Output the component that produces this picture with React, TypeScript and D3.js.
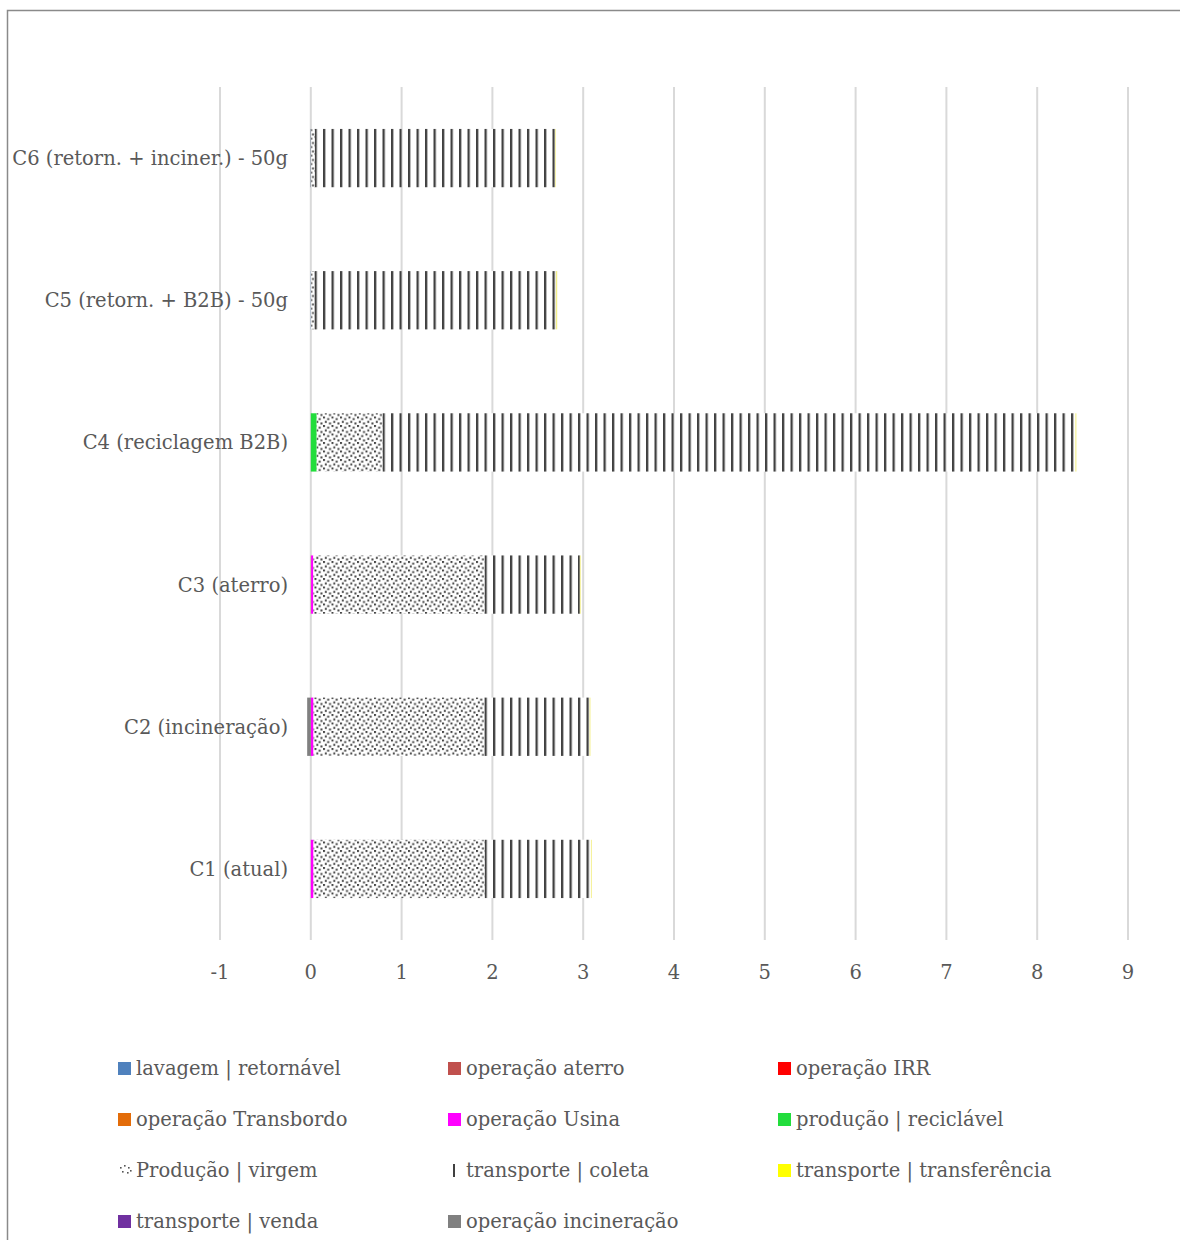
import React, { useEffect, useRef } from "react";
import * as d3 from "d3";

const categories = [
  "C1 (atual)",
  "C2 (incineração)",
  "C3 (aterro)",
  "C4 (reciclagem B2B)",
  "C5 (retorn. + B2B) - 50g",
  "C6 (retorn. + inciner.) - 50g",
];

const seriesNames = [
  "lavagem | retornável",
  "operação aterro",
  "operação IRR",
  "operação Transbordo",
  "operação Usina",
  "produção | reciclável",
  "Produção | virgem",
  "transporte | coleta",
  "transporte | transferência",
  "transporte | venda",
  "operação incineração",
];

// values per category, in order C1..C6
const lavagemRetornavel = [0, 0, 0, 0, 0.004, 0.004];
const operacaoAterro = [0, 0, 0.003, 0, 0, 0];
const operacaoIRR = [0, 0, 0, 0, 0, 0];
const operacaoTransbordo = [0, 0, 0, 0, 0, 0];
const operacaoUsina = [0.03, 0.03, 0.025, 0, 0, 0];
const producaoReciclavel = [0, 0, 0, 0.065, 0, 0];
const producaoVirgem = [1.885, 1.88, 1.885, 0.725, 0.035, 0.04];
const transporteColeta = [1.17, 1.16, 1.05, 7.63, 2.66, 2.645];
const transporteTransferencia = [0.01, 0.01, 0.01, 0.012, 0.015, 0.008];
const transporteVenda = [0, 0, 0, 0, 0, 0];
const operacaoIncineracao = [0, -0.04, 0, 0, 0, -0.004];

const seriesValues = [
  lavagemRetornavel,
  operacaoAterro,
  operacaoIRR,
  operacaoTransbordo,
  operacaoUsina,
  producaoReciclavel,
  producaoVirgem,
  transporteColeta,
  transporteTransferencia,
  transporteVenda,
  operacaoIncineracao,
];

const xTicks = [-1, 0, 1, 2, 3, 4, 5, 6, 7, 8, 9];

const fills = [
  "#4F81BD",
  "#C0504D",
  "#FF0000",
  "#E36C09",
  "#FF00FF",
  "#22DD3C",
  "url(#dots)",
  "url(#vlines)",
  "#F4F08A",
  "#7030A0",
  "#808080",
];

if (typeof document !== "undefined") {
  document.body.style.margin = "0";
}

export default function App() {
  const ref = useRef<SVGSVGElement>(null);

  useEffect(() => {
    const svg = d3.select(ref.current);
    svg.selectAll("*").remove();

    const W = 1180;
    const H = 1240;
    const font = "'DejaVu Serif', serif";
    const textColor = "#595959";
    const fs = 19.5;

    const defs = svg.append("defs");
    const dots = defs
      .append("pattern")
      .attr("id", "dots")
      .attr("patternUnits", "userSpaceOnUse")
      .attr("width", 8.5)
      .attr("height", 8.5);
    dots.append("rect").attr("width", 8.5).attr("height", 8.5).attr("fill", "#fff");
    const dotPts = [
      [1, 1],
      [5.2, 2.6],
      [2.8, 5.4],
      [7, 7],
    ];
    dotPts.forEach(([cx, cy]) =>
      dots
        .append("rect")
        .attr("x", cx - 1)
        .attr("y", cy - 1)
        .attr("width", 2)
        .attr("height", 2)
        .attr("fill", "#444")
    );

    const vl = defs
      .append("pattern")
      .attr("id", "vlines")
      .attr("patternUnits", "userSpaceOnUse")
      .attr("width", 8.5)
      .attr("height", 8.5);
    vl.append("rect").attr("width", 8.5).attr("height", 8.5).attr("fill", "#fff");
    vl.append("rect").attr("x", 0).attr("width", 2.3).attr("height", 8.5).attr("fill", "#404040");

    // border
    svg
      .append("rect")
      .attr("x", 7.5)
      .attr("y", 10.5)
      .attr("width", W + 50)
      .attr("height", H + 50)
      .attr("fill", "none")
      .attr("stroke", "#8a8a8a")
      .attr("stroke-width", 1.5);

    const x = d3.scaleLinear().domain([-1, 9]).range([220, 1128]);
    const y = d3
      .scaleBand<string>()
      .domain(categories.slice().reverse())
      .range([87, 940])
      .padding(0);

    // gridlines
    svg
      .append("g")
      .selectAll("line")
      .data(xTicks)
      .join("line")
      .attr("x1", (d) => x(d))
      .attr("x2", (d) => x(d))
      .attr("y1", 87)
      .attr("y2", 940)
      .attr("stroke", "#D9D9D9")
      .attr("stroke-width", 2);

    // tick labels
    svg
      .append("g")
      .selectAll("text")
      .data(xTicks)
      .join("text")
      .attr("x", (d) => x(d))
      .attr("y", 979)
      .attr("text-anchor", "middle")
      .attr("font-family", font)
      .attr("font-size", fs)
      .attr("fill", textColor)
      .text((d) => String(d));

    // category labels
    svg
      .append("g")
      .selectAll("text")
      .data(categories)
      .join("text")
      .attr("x", 288)
      .attr("y", (d) => (y(d) as number) + y.bandwidth() / 2 + 7)
      .attr("text-anchor", "end")
      .attr("font-family", font)
      .attr("font-size", fs)
      .attr("fill", textColor)
      .text((d) => d);

    // stacked data
    const table = categories.map((c, i) => {
      const row: any = { cat: c };
      seriesNames.forEach((s, k) => (row[s] = seriesValues[k][i]));
      return row;
    });
    const stack = d3
      .stack<any>()
      .keys(seriesNames)
      .offset(d3.stackOffsetDiverging);
    const stacked = stack(table);

    const bh = y.bandwidth() * 0.41;
    const gBars = svg.append("g");
    stacked.forEach((layer, k) => {
      gBars
        .append("g")
        .selectAll("rect")
        .data(layer)
        .join("rect")
        .attr("x", (d) => x(Math.min(d[0], d[1])))
        .attr("y", (d) => (y(d.data.cat) as number) + (y.bandwidth() - bh) / 2)
        .attr("width", (d) => Math.abs(x(d[1]) - x(d[0])))
        .attr("height", bh)
        .attr("fill", fills[k]);
    });

    // legend
    const legendCols = [118, 448, 778];
    const legendRows = [1068, 1119, 1170, 1221];
    const lg = svg.append("g");
    seriesNames.forEach((s, k) => {
      const col = k % 3;
      const row = Math.floor(k / 3);
      const lx = legendCols[col];
      const ly = legendRows[row];
      const g = lg.append("g");
      if (s === "Produção | virgem") {
        [
          [2, 3],
          [6, 1],
          [10, 3],
          [4, 7],
          [9, 8],
          [12, 6],
        ].forEach(([dx, dy]) =>
          g
            .append("rect")
            .attr("x", lx + dx)
            .attr("y", ly - 6 + dy)
            .attr("width", 1.6)
            .attr("height", 1.6)
            .attr("fill", "#555")
        );
      } else if (s === "transporte | coleta") {
        g.append("rect")
          .attr("x", lx + 5)
          .attr("y", ly - 6)
          .attr("width", 2)
          .attr("height", 13)
          .attr("fill", "#404040");
      } else {
        g.append("rect")
          .attr("x", lx)
          .attr("y", ly - 6)
          .attr("width", 13)
          .attr("height", 13)
          .attr("fill", s === "transporte | transferência" ? "#FFFF00" : fills[k]);
      }
      g.append("text")
        .attr("x", lx + 18)
        .attr("y", ly + 7)
        .attr("font-family", font)
        .attr("font-size", fs)
        .attr("fill", textColor)
        .text(s);
    });
  }, []);

  return (
    <svg
      ref={ref}
      width={1180}
      height={1240}
      style={{ display: "block", background: "#fff" }}
    />
  );
}
